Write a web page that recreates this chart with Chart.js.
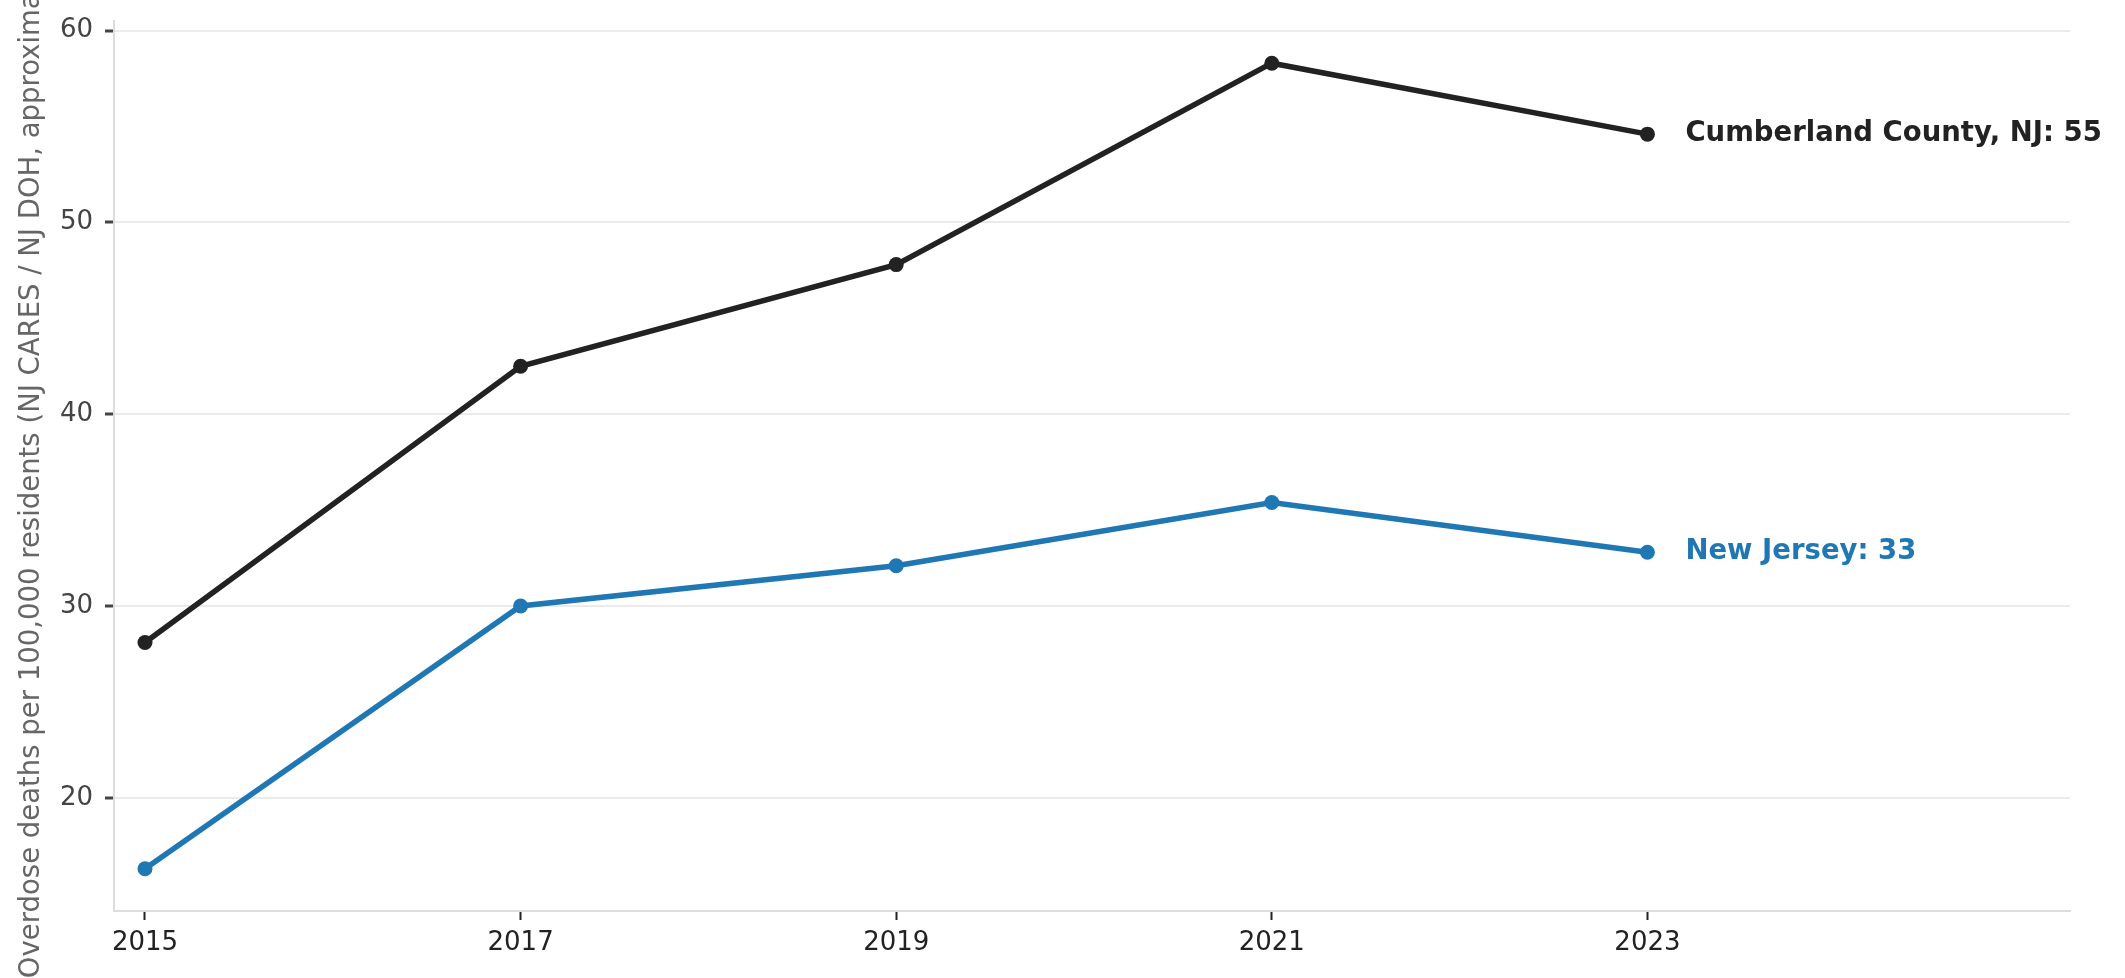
<!DOCTYPE html>
<html>
<head>
<meta charset="utf-8">
<script src="https://cdn.jsdelivr.net/npm/chart.js@4"></script>
<style>
  html, body { margin: 0; padding: 0; background: #fff; }
  #wrap { width: 2125px; height: 978px; }
</style>
</head>
<body>
<div id="wrap"><canvas id="overdoseChart" width="2125" height="978"></canvas></div>
<script>
// Data
const years = [2015, 2017, 2019, 2021, 2023];
const cumberlandRates = [28.1, 42.5, 47.8, 58.3, 54.6];
const newJerseyRates = [16.3, 30.0, 32.1, 35.4, 32.8];
const yTicks = [20, 30, 40, 50, 60];
const seriesNames = ['Cumberland County, NJ', 'New Jersey'];
const yTitle = 'Overdose deaths per 100,000 residents (NJ CARES / NJ DOH, approximate)';

const FONT = "'DejaVu Sans', sans-serif";
const darkColor = '#222222';
const blueColor = '#1f77b4';

// End-of-line labels, placed next to the last point of each line
const endLabels = {
    id: 'endLabels',
    afterDatasetsDraw(chart) {
        const ctx = chart.ctx;
        ctx.save();
        ctx.font = 'bold 27.5px ' + FONT;
        ctx.textAlign = 'left';
        ctx.textBaseline = 'middle';
        chart.data.datasets.forEach(function(ds, i) {
            const meta = chart.getDatasetMeta(i);
            const last = meta.data[meta.data.length - 1];
            const value = ds.data[ds.data.length - 1].y;
            ctx.fillStyle = ds.borderColor;
            ctx.fillText(ds.label + ': ' + Math.round(value), last.x + 38, last.y);
        });
        ctx.restore();
    }
};

function toPoints(values) {
    return years.map((yr, i) => ({ x: yr, y: values[i] }));
}

// keep the plot area fixed: no extra room for edge tick labels
function noEdgePadding(scale) {
    scale.paddingTop = 0;
    scale.paddingBottom = 0;
    scale.paddingLeft = 0;
    scale.paddingRight = 0;
}

new Chart(document.getElementById('overdoseChart').getContext('2d'), {
    type: 'line',
    data: {
        datasets: [
            {
                label: seriesNames[0],
                data: toPoints(cumberlandRates),
                borderColor: darkColor,
                backgroundColor: darkColor,
                borderWidth: 5.5,
                pointRadius: 7.5,
                pointBorderWidth: 0,
                tension: 0
            },
            {
                label: seriesNames[1],
                data: toPoints(newJerseyRates),
                borderColor: blueColor,
                backgroundColor: blueColor,
                borderWidth: 5.5,
                pointRadius: 7.5,
                pointBorderWidth: 0,
                tension: 0
            }
        ]
    },
    options: {
        responsive: false,
        animation: false,
        devicePixelRatio: 1,
        layout: { padding: { top: 21, right: 55, left: 0, bottom: 0 } },
        plugins: {
            legend: { display: false },
            tooltip: { enabled: false }
        },
        scales: {
            x: {
                type: 'linear',
                min: 2014.835,
                max: 2025.25,
                afterBuildTicks: function(scale) {
                    scale.ticks = years.map(v => ({ value: v }));
                },
                afterFit: function(scale) {
                    scale.height = 67;
                    noEdgePadding(scale);
                },
                border: { display: true, color: '#dddddd', width: 2 },
                grid: {
                    display: true,
                    drawOnChartArea: false,
                    drawTicks: true,
                    tickLength: 9,
                    tickColor: '#222222',
                    tickWidth: 2
                },
                ticks: {
                    padding: 8,
                    color: '#222222',
                    font: { family: FONT, size: 26 },
                    maxRotation: 0,
                    callback: v => String(v)
                }
            },
            y: {
                min: 14.1,
                max: 60.5,
                afterBuildTicks: function(scale) {
                    scale.ticks = yTicks.map(v => ({ value: v }));
                },
                afterFit: function(scale) {
                    scale.width = 114;
                    noEdgePadding(scale);
                },
                border: { display: true, color: '#dddddd', width: 2 },
                grid: {
                    color: '#ebebeb',
                    lineWidth: 2,
                    drawTicks: true,
                    tickLength: 9,
                    tickColor: '#444444',
                    tickWidth: 3
                },
                ticks: {
                    padding: 12,
                    color: '#444444',
                    font: { family: FONT, size: 26 }
                },
                title: {
                    display: true,
                    text: yTitle,
                    color: '#666666',
                    font: { family: FONT, size: 27.5 },
                    padding: { top: 15, bottom: 4 }
                }
            }
        }
    },
    plugins: [endLabels]
});
</script>
</body>
</html>
